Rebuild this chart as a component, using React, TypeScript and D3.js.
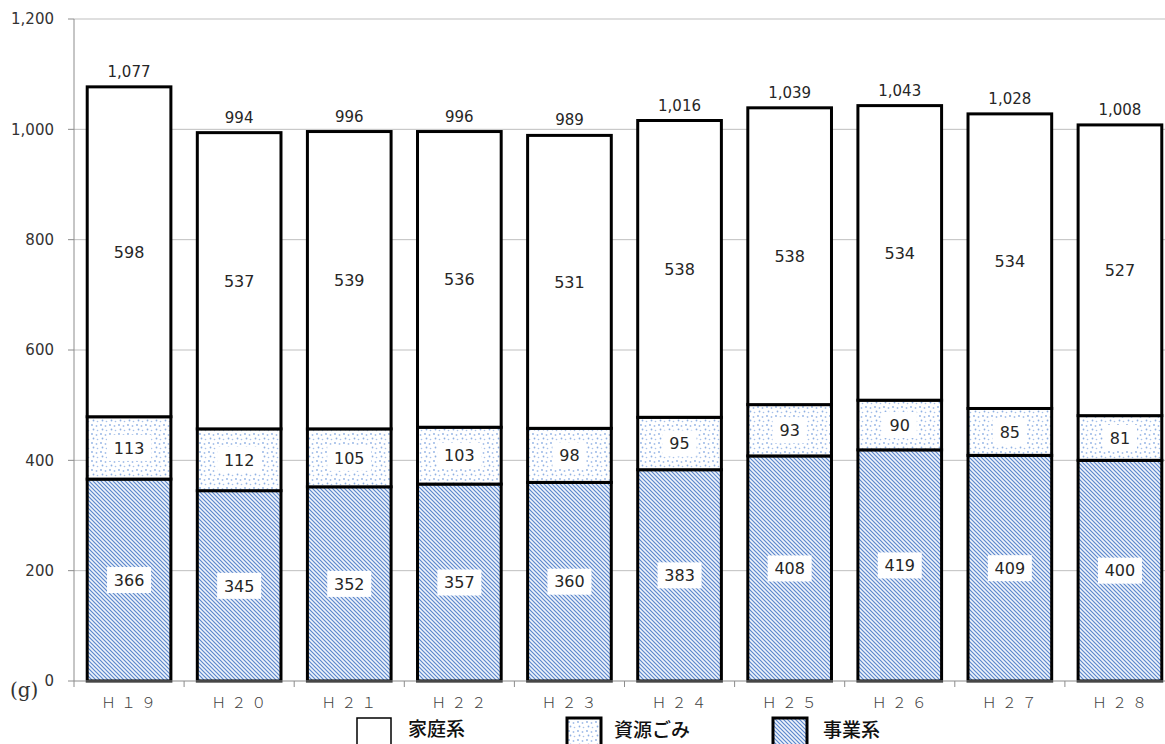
import React from "react";
import * as d3 from "d3";

const categories = ["Ｈ１９", "Ｈ２０", "Ｈ２１", "Ｈ２２", "Ｈ２３", "Ｈ２４", "Ｈ２５", "Ｈ２６", "Ｈ２７", "Ｈ２８"];
const jigyou = [366, 345, 352, 357, 360, 383, 408, 419, 409, 400];
const shigen = [113, 112, 105, 103, 98, 95, 93, 90, 85, 81];
const katei = [598, 537, 539, 536, 531, 538, 538, 534, 534, 527];
const yTicks = [0, 200, 400, 600, 800, 1000, 1200];
const seriesNames = ["家庭系", "資源ごみ", "事業系"];

const W = 1165;
const H = 744;

export default function App() {
  const x = d3.scaleBand<string>().domain(categories).range([74, 1175]).paddingInner(0.24).paddingOuter(0.12);
  const y = d3.scaleLinear().domain([0, 1200]).range([681, 19]);
  const fmt = d3.format(",");
  const rows = categories.map((c, i) => ({ c, j: jigyou[i], s: shigen[i], k: katei[i] }));
  const stack = d3.stack<any>().keys(["j", "s", "k"])(rows as any);
  const fills: Record<string, string> = { j: "url(#hatch)", s: "url(#dots)", k: "#ffffff" };
  const step = x.step();
  const numFont = "'DejaVu Sans', Verdana, sans-serif";
  const jpFont = "'Noto Sans CJK JP', sans-serif";

  return (
    <svg width={W} height={H} style={{ position: "absolute", left: 0, top: 0, background: "#fff" }}>
      <defs>
        <pattern id="hatch" width="4" height="4" patternUnits="userSpaceOnUse">
          <rect width="4" height="4" fill="#eef3fb" />
          <path d="M-1,-1 L5,5 M-1,3 L1,5 M3,-1 L5,1" stroke="#5a86cc" strokeWidth="1.15" />
        </pattern>
        <pattern id="dots" width="9" height="9" patternUnits="userSpaceOnUse">
          <rect width="9" height="9" fill="#ffffff" />
          <circle cx="2" cy="2" r="0.9" fill="#8fb0e3" />
          <circle cx="6.5" cy="3" r="0.9" fill="#a7c1ea" />
          <circle cx="3.5" cy="6.5" r="0.9" fill="#8fb0e3" />
          <circle cx="7.5" cy="7.5" r="0.8" fill="#a7c1ea" />
        </pattern>
      </defs>

      {yTicks.filter((t) => t > 0).map((t) => (
        <line key={t} x1={74} x2={W} y1={y(t)} y2={y(t)} stroke="#bfbfbf" strokeWidth={1} />
      ))}
      <line x1={74} x2={74} y1={y(1200)} y2={y(0)} stroke="#8c8c8c" strokeWidth={1} />
      {yTicks.map((t) => (
        <g key={t}>
          <line x1={68} x2={74} y1={y(t)} y2={y(t)} stroke="#8c8c8c" />
          <text x={54} y={y(t)} dy="0.35em" textAnchor="end" fontFamily={numFont} fontSize={15} fill="#333">
            {fmt(t)}
          </text>
        </g>
      ))}

      {stack.map((layer) => (
        <g key={layer.key}>
          {layer.map((d: any, i: number) => (
            <rect
              key={i}
              x={x(categories[i])!}
              y={y(d[1])}
              width={x.bandwidth()}
              height={y(d[0]) - y(d[1])}
              fill={fills[layer.key]}
              stroke="#000"
              strokeWidth={3}
            />
          ))}
        </g>
      ))}

      {stack.map((layer) => (
        <g key={"l" + layer.key}>
          {layer.map((d: any, i: number) => {
            const cx = x(categories[i])! + x.bandwidth() / 2;
            const cy = (y(d[0]) + y(d[1])) / 2;
            const v = d[1] - d[0];
            const txt = String(v);
            const bw = txt.length * 10 + 14;
            return (
              <g key={i}>
                {layer.key !== "k" && (
                  <rect x={cx - bw / 2} y={cy - 13} width={bw} height={26} fill="#fff" />
                )}
                <text x={cx} y={cy} dy="0.36em" textAnchor="middle" fontFamily={numFont} fontSize={16} fill="#262626">
                  {txt}
                </text>
              </g>
            );
          })}
        </g>
      ))}

      {rows.map((r, i) => (
        <text
          key={i}
          x={x(r.c)! + x.bandwidth() / 2}
          y={y(r.j + r.s + r.k) - 10}
          textAnchor="middle"
          fontFamily={numFont}
          fontSize={15}
          fill="#262626"
        >
          {fmt(r.j + r.s + r.k)}
        </text>
      ))}

      <line x1={74} x2={W} y1={y(0)} y2={y(0)} stroke="#8c8c8c" strokeWidth={1} />
      {d3.range(categories.length + 1).map((i) => (
        <line key={i} x1={74 + i * step} x2={74 + i * step} y1={y(0)} y2={y(0) + 6} stroke="#8c8c8c" />
      ))}
      {categories.map((c) => (
        <text
          key={c}
          x={x(c)! + x.bandwidth() / 2 + 2}
          y={703}
          dy="0.35em"
          textAnchor="middle"
          fontFamily={jpFont}
          fontSize={15}
          fontWeight={300}
          letterSpacing={5}
          fill="#404040"
        >
          {c}
        </text>
      ))}
      <text x={10} y={697} fontFamily="'DejaVu Serif', serif" fontSize={20} fill="#333">(g)</text>

      {[
        { name: seriesNames[0], fill: "#fff", bx: 357, tx: 408, ty: 729, sw: 1.5 },
        { name: seriesNames[1], fill: "url(#dots)", bx: 567, tx: 614, ty: 730, sw: 3 },
        { name: seriesNames[2], fill: "url(#hatch)", bx: 773, tx: 823, ty: 730, sw: 3 },
      ].map((l) => (
        <g key={l.name}>
          <rect x={l.bx} y={718} width={34} height={40} fill={l.fill} stroke="#000" strokeWidth={l.sw} />
          <text x={l.tx} y={l.ty} dy="0.35em" fontFamily={jpFont} fontSize={19} fontWeight={500} fill="#111">
            {l.name}
          </text>
        </g>
      ))}
    </svg>
  );
}
